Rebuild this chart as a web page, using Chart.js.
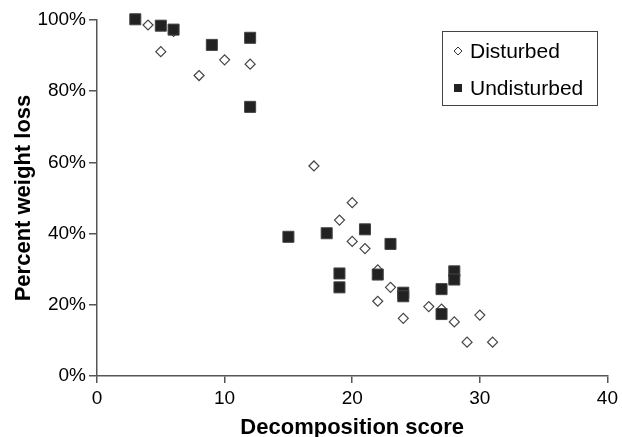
<!DOCTYPE html>
<html>
<head>
<meta charset="utf-8">
<script src="https://cdn.jsdelivr.net/npm/chart.js@4/dist/chart.umd.min.js"></script>
<style>
  html, body { margin: 0; padding: 0; background: #fff; }
  #wrap { width: 622px; height: 437px; }
</style>
</head>
<body>
<div id="wrap"><canvas id="c" width="622" height="437"></canvas></div>
<script>
const seriesNames = ['Disturbed', 'Undisturbed'];
const disturbedX = [4, 5, 6, 8, 10, 12, 17, 19, 20, 20, 21, 22, 22, 23, 24, 26, 27, 28, 29, 30, 31];
const disturbedY = [98.6, 91.1, 96.8, 84.4, 88.8, 87.6, 59.0, 43.8, 48.7, 37.8, 35.8, 29.8, 21.0, 24.9, 16.2, 19.5, 18.8, 15.2, 9.5, 17.1, 9.5];
const undisturbedX = [3, 5, 6, 9, 12, 12, 15, 18, 19, 19, 21, 22, 23, 24, 24, 27, 27, 28, 28];
const undisturbedY = [100.2, 98.4, 97.3, 93.0, 95.0, 75.6, 39.1, 40.1, 28.8, 24.9, 41.2, 28.5, 37.1, 23.4, 22.4, 24.4, 17.4, 29.4, 27.1];
const xTicks = [0, 10, 20, 30, 40];
const yTicks = [0, 20, 40, 60, 80, 100];
const xTitle = 'Decomposition score';
const yTitle = 'Percent weight loss';

const toPts = (xs, ys) => xs.map((x, i) => ({ x: x, y: ys[i] }));
const FONT = '"Liberation Sans", Arial, sans-serif';

const legendBox = {
  id: 'legendBox',
  afterDraw(chart) {
    const ctx = chart.ctx;
    ctx.save();
    ctx.strokeStyle = '#444';
    ctx.lineWidth = 1;
    ctx.strokeRect(442.5, 31.5, 155, 74);
    ctx.font = '21px ' + FONT;
    ctx.fillStyle = '#000';
    ctx.textBaseline = 'middle';
    ctx.textAlign = 'left';
    const rows = [51, 88];
    chart.data.datasets.forEach((ds, i) => {
      const y = rows[i];
      if (i === 0) {
        ctx.beginPath();
        ctx.moveTo(454, y); ctx.lineTo(458, y - 4); ctx.lineTo(462, y); ctx.lineTo(458, y + 4); ctx.closePath();
        ctx.fillStyle = '#fff'; ctx.fill();
        ctx.strokeStyle = '#333'; ctx.stroke();
      } else {
        ctx.fillStyle = '#222';
        ctx.fillRect(454, y - 4, 8, 8);
      }
      ctx.fillStyle = '#000';
      ctx.fillText(ds.label, 470, y + 1);
    });
    ctx.restore();
  }
};

new Chart(document.getElementById('c'), {
  type: 'scatter',
  data: {
    datasets: [
      {
        label: seriesNames[0],
        data: toPts(disturbedX, disturbedY),
        pointStyle: 'rectRot',
        pointRadius: 5,
        backgroundColor: '#fff',
        borderColor: '#444',
        borderWidth: 1.2,
        clip: false,
        order: 2
      },
      {
        label: seriesNames[1],
        data: toPts(undisturbedX, undisturbedY),
        pointStyle: 'rect',
        pointRadius: 7.8,
        backgroundColor: '#222',
        borderColor: '#444',
        borderWidth: 1,
        clip: false,
        order: 1
      }
    ]
  },
  options: {
    responsive: false,
    animation: false,
    layout: { padding: { top: 20, right: 12, left: 0, bottom: 0 } },
    plugins: { legend: { display: false }, tooltip: { enabled: false } },
    scales: {
      x: {
        type: 'linear',
        min: 0, max: 40,
        afterBuildTicks: (s) => { s.ticks = xTicks.map(v => ({ value: v })); },
        afterFit: (s) => { s.height = 61; },
        ticks: { color: '#000', font: { family: FONT, size: 19 }, padding: 4, maxRotation: 0 },
        grid: { display: true, drawOnChartArea: false, drawTicks: true, tickLength: 7, color: '#555', lineWidth: 1.5 },
        border: { display: true, color: '#555', width: 1.5 },
        title: { display: true, text: xTitle, color: '#000', font: { family: FONT, size: 22, weight: 'bold', lineHeight: 0.8 }, padding: { top: 0, bottom: 0 } }
      },
      y: {
        type: 'linear',
        min: 0, max: 100,
        afterBuildTicks: (s) => { s.ticks = yTicks.map(v => ({ value: v })); },
        afterFit: (s) => { s.width = 97; },
        ticks: { color: '#000', font: { family: FONT, size: 19 }, padding: 3, callback: (v) => v + '%' },
        grid: { display: true, drawOnChartArea: false, drawTicks: true, tickLength: 8, color: '#555', lineWidth: 1.5 },
        border: { display: true, color: '#555', width: 1.5 },
        title: { display: true, text: yTitle, color: '#000', font: { family: FONT, size: 22, weight: 'bold', lineHeight: 1 }, padding: { top: 13, bottom: 0 } }
      }
    }
  },
  plugins: [legendBox]
});
</script>
</body>
</html>
